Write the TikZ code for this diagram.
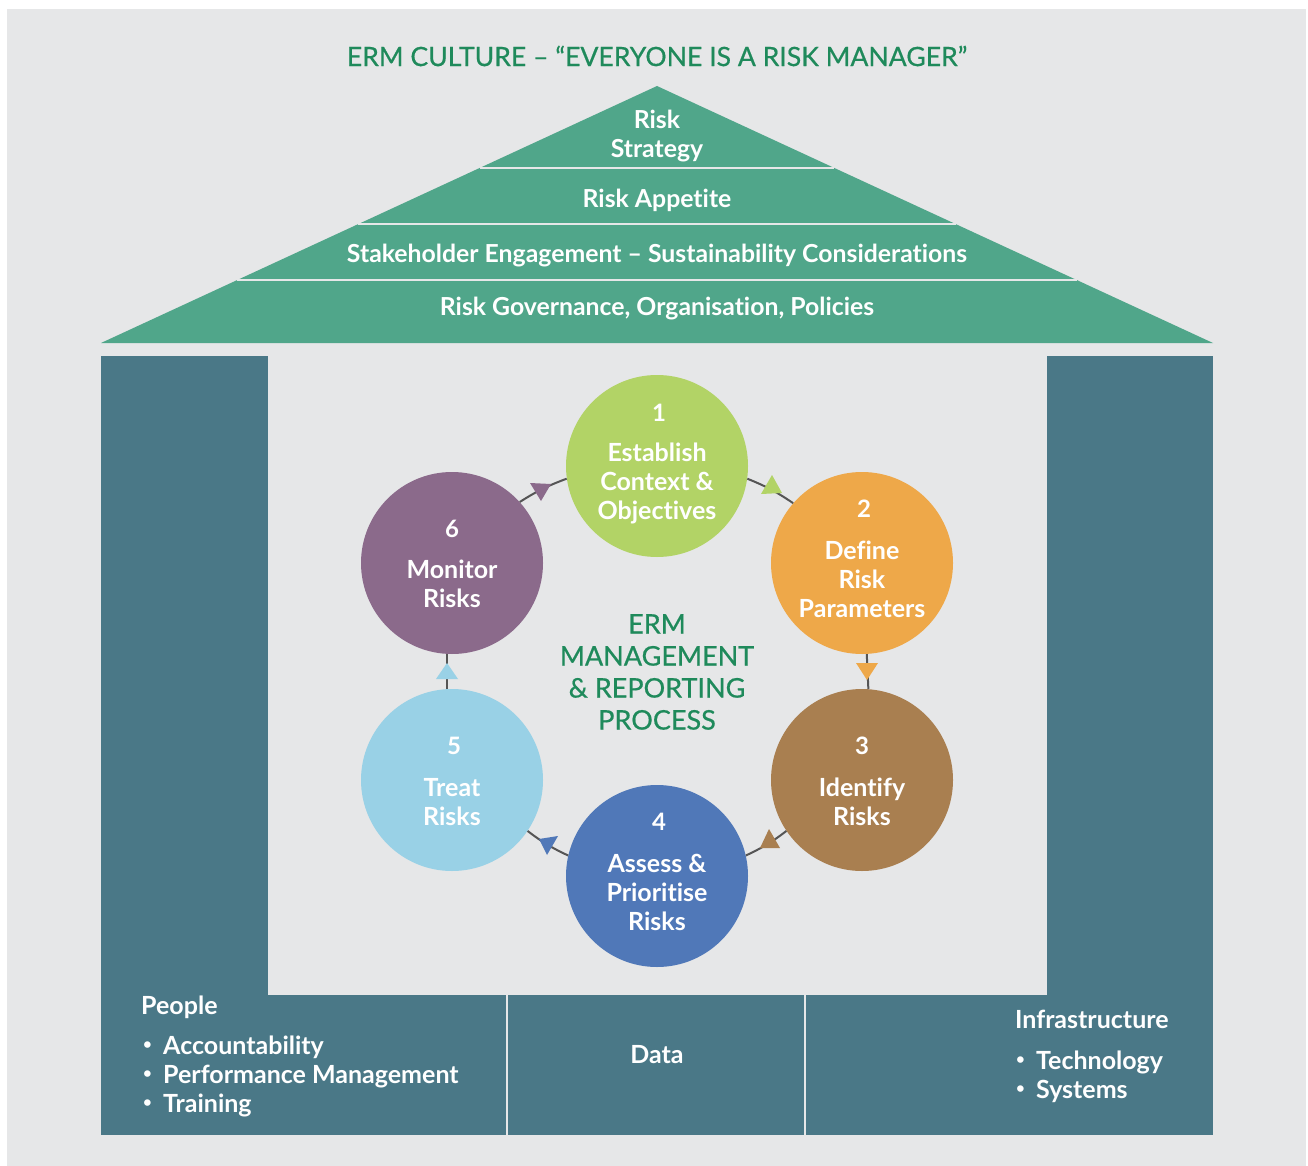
\documentclass[tikz,border=0pt]{standalone}
\usepackage{fontspec}
\setmainfont{Lato}[Ligatures=NoCommon]
\newfontfamily\medfont{Lato}[FakeBold=0.6,Ligatures=NoCommon]
\usetikzlibrary{shapes.geometric}
\definecolor{bggray}{HTML}{E6E7E8}
\definecolor{roofgreen}{HTML}{50A68A}
\definecolor{pillarblue}{HTML}{4A7887}
\definecolor{titlegreen}{HTML}{1F8A5B}
\definecolor{cgreen}{HTML}{B2D366}
\definecolor{corange}{HTML}{EEA849}
\definecolor{cbrown}{HTML}{A97F50}
\definecolor{cblue}{HTML}{5078B8}
\definecolor{clight}{HTML}{99D1E6}
\definecolor{cpurple}{HTML}{8B6A8B}
\definecolor{connc}{HTML}{555555}
\newcommand{\mybullet}{\makebox[21pt][l]{\hspace*{1pt}\raisebox{0.17em}{\fontsize{15}{15}\selectfont •}}}
\begin{document}
\begin{tikzpicture}[x=1pt,y=-1pt,
  sepline/.style={draw=bggray,line width=2pt},
  rooftext/.style={text=white,font=\fontsize{24.8}{29}\selectfont\bfseries,align=center,inner sep=0pt},
  stage/.style={circle,minimum size=182pt,inner sep=0pt},
  numtext/.style={text=white,font=\fontsize{24}{29}\selectfont\bfseries,inner sep=0pt},
  stagetext/.style={text=white,font=\fontsize{25}{29}\selectfont\bfseries,align=center,inner sep=0pt},
  conn/.style={draw=connc,line width=2pt},
  basetext/.style={text=white,font=\fontsize{25}{29}\selectfont\bfseries,inner sep=0pt,align=left}
]
\useasboundingbox (0,0) rectangle (1308,1166);
\fill[white] (0,0) rectangle (1308,1166);
\fill[bggray] (7,9) rectangle (1306,1166);

% title
\node[text=titlegreen,font=\fontsize{26.6}{30}\selectfont\medfont,inner sep=0pt] (title) at (657,56) {ERM CULTURE – “EVERYONE IS A RISK MANAGER”};

% roof
\fill[roofgreen] (657,86) -- (1213,343) -- (101,343) -- cycle;
\draw[sepline] (479.6,168) -- (834.4,168);
\draw[sepline] (358.4,224) -- (955.6,224);
\draw[sepline] (237.3,280) -- (1076.7,280);
\node[rooftext] (strategy) at (657,136) {Risk\\Strategy};
\node[rooftext] (appetite) at (657,200) {Risk Appetite};
\node[rooftext] (stake) at (657,256) {Stakeholder Engagement – Sustainability Considerations};
\node[rooftext] (gov) at (657,309) {Risk Governance, Organisation, Policies};

% pillars and base
\fill[pillarblue] (101,356) rectangle (268,1135);
\fill[pillarblue] (1047,356) rectangle (1213,1135);
\fill[pillarblue] (101,995) rectangle (1213,1135);
\draw[sepline] (507,995) -- (507,1135);
\draw[sepline] (805,995) -- (805,1135);

% stages
\node[stage,fill=cgreen]  (c1) at (657,466) {};
\node[stage,fill=corange] (c2) at (862,563) {};
\node[stage,fill=cbrown]  (c3) at (862,780) {};
\node[stage,fill=cblue]   (c4) at (657,876) {};
\node[stage,fill=clight]  (c5) at (452,780) {};
\node[stage,fill=cpurple] (c6) at (452,563) {};

% connectors
\draw[conn] (c1.-8)   to[bend left=6] (c2.139);
\draw[conn] (c2.-87)  to (c3.86);
\draw[conn] (c3.-146) to[bend left=6] (c4.13);
\draw[conn] (c4.167)  to[bend left=6] (c5.-34);
\draw[conn] (c5.93)   to (c6.-93);
\draw[conn] (c6.42)   to[bend left=6] (c1.188);

% arrow heads
\fill[cgreen]  (772,475) -- (761,494) -- (782,493) -- cycle;
\fill[corange] (856,663) -- (878,663) -- (867,680) -- cycle;
\fill[cbrown]  (769,829) -- (760,848) -- (780,848) -- cycle;
\fill[cblue]   (539,839) -- (558,836) -- (547,855) -- cycle;
\fill[clight]  (447,663) -- (436,679) -- (458,679) -- cycle;
\fill[cpurple] (530,483) -- (551,484) -- (541,501) -- cycle;

% stage labels
\node[numtext] (n1) at (659,413) {1};
\node[stagetext] (t1) at (657,483) {Establish\\Context \&\\Objectives};
\node[numtext] (n2) at (864,509) {2};
\node[stagetext] (t2) at (862,579) {Define\\Risk\\Parameters};
\node[numtext] (n3) at (862,746) {3};
\node[stagetext] (t3) at (862,802) {Identify\\Risks};
\node[numtext] (n4) at (659,822) {4};
\node[stagetext] (t4) at (657,892) {Assess \&\\Prioritise\\Risks};
\node[numtext] (n5) at (454,746) {5};
\node[stagetext] (t5) at (452,802) {Treat\\Risks};
\node[numtext] (n6) at (452,529) {6};
\node[stagetext] (t6) at (452,584) {Monitor\\Risks};

% centre text
\node[text=titlegreen,font=\fontsize{27}{32}\selectfont\medfont,align=center,inner sep=0pt] (centre) at (657,672) {ERM\\MANAGEMENT\\\& REPORTING\\PROCESS};

% base texts
\node[basetext,anchor=base west] (people) at (141,1014) {People};
\node[basetext,anchor=base west] (p1) at (142,1054) {\mybullet Accountability};
\node[basetext,anchor=base west] (p2) at (142,1083) {\mybullet Performance Management};
\node[basetext,anchor=base west] (p3) at (142,1112) {\mybullet Training};
\node[basetext,anchor=base] (data) at (657,1063) {Data};
\node[basetext,anchor=base west] (infra) at (1015,1028) {Infrastructure};
\node[basetext,anchor=base west] (i1) at (1015,1069) {\mybullet Technology};
\node[basetext,anchor=base west] (i2) at (1015,1098) {\mybullet Systems};
\end{tikzpicture}
\end{document}
